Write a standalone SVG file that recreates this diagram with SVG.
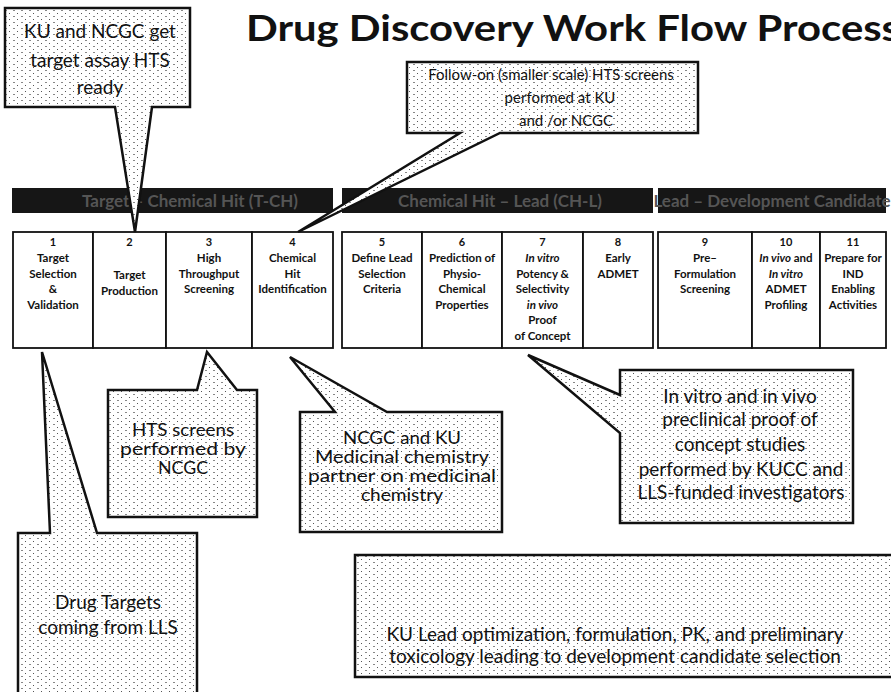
<svg xmlns="http://www.w3.org/2000/svg" width="891" height="692" viewBox="0 0 891 692">
<defs>
<pattern id="spk" width="8" height="6" patternUnits="userSpaceOnUse">
<rect width="8" height="6" fill="#ffffff"/>
<rect x="1" y="1" width="1" height="1" fill="#555"/>
<rect x="5" y="4" width="2" height="1" fill="#888"/>
</pattern>
<style>
.title{font-family:Lato,"Liberation Sans",sans-serif;font-weight:bold;font-size:36px;fill:#111}
.co{fill:url(#spk);stroke:#111;stroke-width:2.5;stroke-linejoin:miter}
.ct{font-family:Lato,"Open Sans",sans-serif;font-size:19px;fill:#111;text-anchor:middle}
.cm{font-family:Lato,"Open Sans",sans-serif;font-size:16.5px;fill:#111;text-anchor:middle}
.cs{font-family:Lato,"Open Sans",sans-serif;font-size:15px;fill:#111;text-anchor:middle}
.bar{fill:#161616}
.bt{font-family:Lato,"Liberation Sans",sans-serif;font-weight:bold;font-size:17px;fill:#555;text-anchor:middle}
.cell{fill:#fff;stroke:#111;stroke-width:1.8}
.num{font-family:Lato,"Liberation Sans",sans-serif;font-weight:bold;font-size:11px;fill:#111;text-anchor:middle}
.st{font-family:Lato,"Liberation Sans",sans-serif;font-weight:bold;font-size:11.5px;fill:#111;text-anchor:middle}
.it{font-style:italic}
</style>
</defs>
<rect width="891" height="692" fill="#ffffff"/>

<text class="title" x="246" y="41" textLength="654" lengthAdjust="spacingAndGlyphs">Drug Discovery Work Flow Process</text>

<g id="phase-bars">
<rect class="bar" x="12" y="188" width="321" height="25"/>
<text class="bt" x="190" y="207">Target – Chemical Hit (T-CH)</text>
<rect class="bar" x="342" y="188" width="311" height="25"/>
<text class="bt" x="500" y="207">Chemical Hit – Lead (CH-L)</text>
<rect class="bar" x="658" y="188" width="228" height="25"/>
<text class="bt" x="772" y="207">Lead – Development Candidate</text>
</g>

<g id="step1"><rect class="cell" x="13" y="232" width="80" height="116"/>
<text class="num" x="53" y="246">1</text>
<text class="st" x="53" y="262">Target</text><text class="st" x="53" y="277.5">Selection</text><text class="st" x="53" y="293">&amp;</text><text class="st" x="53" y="308.5">Validation</text></g>
<g id="step2"><rect class="cell" x="93" y="232" width="73" height="116"/>
<text class="num" x="129.5" y="246">2</text>
<text class="st" x="129.5" y="279">Target</text><text class="st" x="129.5" y="294.5">Production</text></g>
<g id="step3"><rect class="cell" x="166" y="232" width="86" height="116"/>
<text class="num" x="209" y="246">3</text>
<text class="st" x="209" y="262">High</text><text class="st" x="209" y="277.5">Throughput</text><text class="st" x="209" y="293">Screening</text></g>
<g id="step4"><rect class="cell" x="252" y="232" width="81" height="116"/>
<text class="num" x="292.5" y="246">4</text>
<text class="st" x="292.5" y="262">Chemical</text><text class="st" x="292.5" y="277.5">Hit</text><text class="st" x="292.5" y="293">Identification</text></g>

<g id="step5"><rect class="cell" x="342" y="232" width="80" height="116"/>
<text class="num" x="382" y="246">5</text>
<text class="st" x="382" y="262">Define Lead</text><text class="st" x="382" y="277.5">Selection</text><text class="st" x="382" y="293">Criteria</text></g>
<g id="step6"><rect class="cell" x="422" y="232" width="80" height="116"/>
<text class="num" x="462" y="246">6</text>
<text class="st" x="462" y="262">Prediction of</text><text class="st" x="462" y="277.5">Physio-</text><text class="st" x="462" y="293">Chemical</text><text class="st" x="462" y="308.5">Properties</text></g>
<g id="step7"><rect class="cell" x="502" y="232" width="81" height="116"/>
<text class="num" x="542.5" y="246">7</text>
<text class="st it" x="542.5" y="262">In vitro</text><text class="st" x="542.5" y="277.5">Potency &amp;</text><text class="st" x="542.5" y="293">Selectivity</text><text class="st it" x="542.5" y="308.5">in vivo</text><text class="st" x="542.5" y="324">Proof</text><text class="st" x="542.5" y="339.5">of Concept</text></g>
<g id="step8"><rect class="cell" x="583" y="232" width="70" height="116"/>
<text class="num" x="618" y="246">8</text>
<text class="st" x="618" y="262">Early</text><text class="st" x="618" y="277.5">ADMET</text></g>

<g id="step9"><rect class="cell" x="658" y="232" width="94" height="116"/>
<text class="num" x="705" y="246">9</text>
<text class="st" x="705" y="262">Pre–</text><text class="st" x="705" y="277.5">Formulation</text><text class="st" x="705" y="293">Screening</text></g>
<g id="step10"><rect class="cell" x="752" y="232" width="68" height="116"/>
<text class="num" x="786" y="246">10</text>
<text class="st" x="786" y="262"><tspan class="it">In vivo</tspan> and</text><text class="st it" x="786" y="277.5">In vitro</text><text class="st" x="786" y="293">ADMET</text><text class="st" x="786" y="308.5">Profiling</text></g>
<g id="step11"><rect class="cell" x="820" y="232" width="66" height="116"/>
<text class="num" x="853" y="246">11</text>
<text class="st" x="853" y="262">Prepare for</text><text class="st" x="853" y="277.5">IND</text><text class="st" x="853" y="293">Enabling</text><text class="st" x="853" y="308.5">Activities</text></g>

<g id="callout-assay">
<path class="co" d="M5,8 H190 V107 H152 L135,232 L115,107 H5 Z"/>
<text class="ct" x="100" y="38">KU and NCGC get</text>
<text class="ct" x="100" y="67">target assay HTS</text>
<text class="ct" x="100" y="94">ready</text>
</g>

<g id="callout-followon">
<path class="co" d="M407,62 H698 V133 H500 L298,232 L460,133 H407 Z"/>
<text class="cs" x="551" y="80">Follow-on (smaller scale) HTS screens</text>
<text class="cs" x="560" y="103">performed at KU</text>
<text class="cs" x="566" y="126">and /or NCGC</text>
</g>

<g id="callout-hts">
<path class="co" d="M108,390 H197 L207,352 L237,390 H257 V517 H108 Z"/>
<text class="cm" x="183" y="436" textLength="102" lengthAdjust="spacingAndGlyphs">HTS screens</text>
<text class="cm" x="183" y="455" textLength="126" lengthAdjust="spacingAndGlyphs">performed by</text>
<text class="cm" x="183" y="474" textLength="50" lengthAdjust="spacingAndGlyphs">NCGC</text>
</g>

<g id="callout-medchem">
<path class="co" d="M300,412 H335 L290,357 L387,412 H502 V532 H300 Z"/>
<text class="cm" x="402" y="444" textLength="118" lengthAdjust="spacingAndGlyphs">NCGC and KU</text>
<text class="cm" x="402" y="463" textLength="174" lengthAdjust="spacingAndGlyphs">Medicinal chemistry</text>
<text class="cm" x="402" y="482" textLength="188" lengthAdjust="spacingAndGlyphs">partner on medicinal</text>
<text class="cm" x="402" y="501" textLength="82" lengthAdjust="spacingAndGlyphs">chemistry</text>
</g>

<g id="callout-poc">
<path class="co" d="M620,370 H853 V523 H620 V433 L528,355 L620,395 Z"/>
<text class="ct" x="740" y="403">In vitro and in vivo</text>
<text class="ct" x="740" y="426">preclinical proof of</text>
<text class="ct" x="740" y="451">concept studies</text>
<text class="ct" x="741" y="476">performed by KUCC and</text>
<text class="ct" x="741" y="499">LLS-funded investigators</text>
</g>

<g id="callout-targets">
<path class="co" d="M18,533 H50 L42,352 L97,533 H197 V700 H18 Z"/>
<text class="ct" x="108" y="609">Drug Targets</text>
<text class="ct" x="108" y="634">coming from LLS</text>
</g>

<g id="callout-leadopt">
<path class="co" d="M355,555 H900 V677 H355 Z"/>
<text class="ct" x="615" y="641" font-size="18">KU Lead optimization, formulation, PK, and preliminary</text>
<text class="ct" x="615" y="663" font-size="18">toxicology leading to development candidate selection</text>
</g>

<g id="connectors"></g>
</svg>
